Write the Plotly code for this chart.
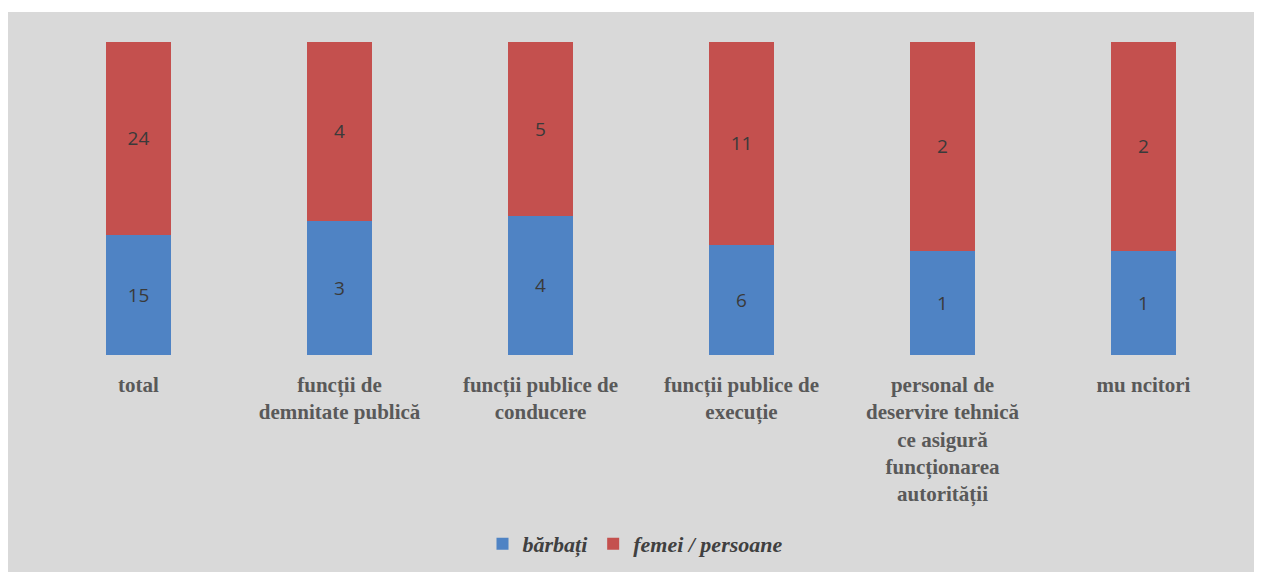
import plotly.graph_objects as go

categories = [
    "total",
    "funcții de<br>demnitate publică",
    "funcții publice de<br>conducere",
    "funcții publice de<br>execuție",
    "personal de<br>deservire tehnică<br>ce asigură<br>funcționarea<br>autorității",
    "mu ncitori",
]
barbati = [15, 3, 4, 6, 1, 1]
femei = [24, 4, 5, 11, 2, 2]
series_names = ["bărbați", "femei / persoane"]

BLUE = "#4f83c4"
RED = "#c4504e"
GRAY = "#d9d9d9"
LABEL_FONT = dict(family="Open Sans, Liberation Sans, sans-serif", size=19, color="#3a3a3a")

fig = go.Figure()
for vals, name, col in [(barbati, series_names[0], BLUE), (femei, series_names[1], RED)]:
    fig.add_trace(go.Bar(
        x=categories, y=vals, name=name, marker_color=col,
        text=vals, texttemplate="%{text}", textposition="inside",
        insidetextanchor="middle", textangle=0, textfont=LABEL_FONT,
        marker_line_width=0,
    ))

# page is drawn with an 8px body margin
W, H = 1254, 564
ml, mr, mt, mb = 30, 18, 34, 217
pw, ph = W - ml - mr, H - mt - mb

fig.update_layout(
    width=W, height=H,
    barmode="stack", barnorm="percent", bargap=0.68,
    margin=dict(l=ml, r=mr, t=mt, b=mb, pad=0, autoexpand=False),
    paper_bgcolor="white", plot_bgcolor=GRAY,
    showlegend=True,
    legend=dict(
        orientation="h", x=0.5, xanchor="center", xref="container",
        y=(H - 536) / H, yanchor="middle", yref="container",
        font=dict(family="Liberation Serif, Times New Roman, serif", size=22, color="#404040",
                  style="italic", weight="bold"),
        bgcolor="rgba(0,0,0,0)", traceorder="normal",
    ),
    shapes=[dict(
        type="rect", xref="paper", yref="paper", layer="below",
        x0=(0 - ml) / pw, x1=(W - ml) / pw,
        y0=-(H - (mt + ph)) / ph, y1=1 + (mt - 4) / ph,
        fillcolor=GRAY, line_width=0,
    )],
    xaxis=dict(
        showline=False, showgrid=False, zeroline=False, ticks="", automargin=False,
        tickfont=dict(family="Liberation Serif, Times New Roman, serif", size=21, color="#595959",
                      weight="bold"),
        ticklabelstandoff=15,
    ),
    yaxis=dict(visible=False, range=[0, 100], automargin=False),
)

fig.write_html("out.html")
